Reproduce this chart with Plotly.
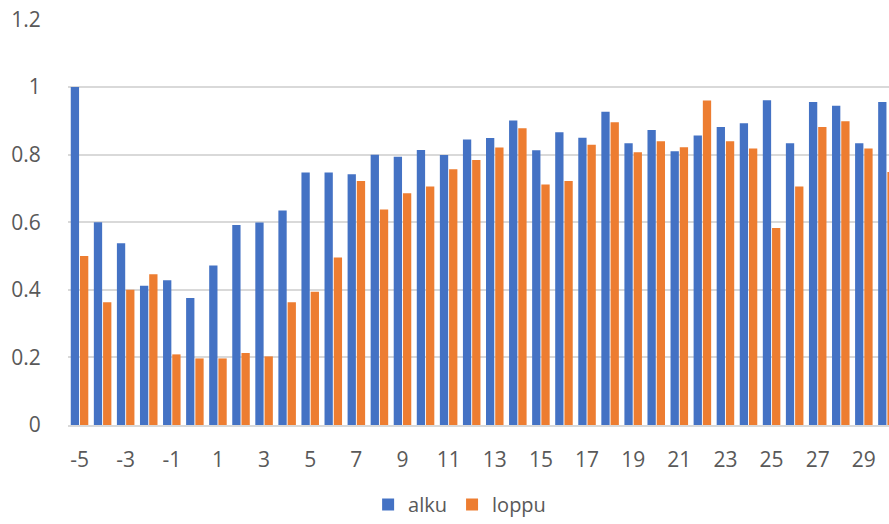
import plotly.graph_objects as go

# Category values along the x axis
categories = list(range(-5, 31))

alku = [1.0, 0.6, 0.538, 0.412, 0.428, 0.376, 0.472, 0.592, 0.599, 0.635,
        0.747, 0.747, 0.742, 0.80, 0.794, 0.814, 0.799, 0.845, 0.849, 0.901,
        0.813, 0.866, 0.85, 0.927, 0.834, 0.873, 0.81, 0.857, 0.882, 0.893,
        0.961, 0.834, 0.956, 0.945, 0.834, 0.956]

loppu = [0.5, 0.363, 0.40, 0.446, 0.209, 0.197, 0.197, 0.213, 0.203, 0.363,
         0.394, 0.496, 0.722, 0.638, 0.686, 0.706, 0.757, 0.784, 0.821, 0.878,
         0.712, 0.722, 0.829, 0.896, 0.807, 0.84, 0.822, 0.96, 0.84, 0.818,
         0.583, 0.706, 0.882, 0.899, 0.818, 0.749]

x_ticks = list(range(-5, 30, 2))
y_ticks = [0, 0.2, 0.4, 0.6, 0.8, 1, 1.2]
y_labels = ["0", "0.2", "0.4", "0.6", "0.8", "1", "1.2"]

BLUE = "#4472C4"
ORANGE = "#ED7D31"
TEXT = "#595959"
GRID = "#D9D9D9"
CLEAR = "rgba(0,0,0,0)"

fig = go.Figure()
fig.add_trace(go.Bar(x=categories, y=alku, name="alku",
                     marker=dict(color=BLUE, line=dict(width=0))))
fig.add_trace(go.Bar(x=categories, y=loppu, name="loppu",
                     marker=dict(color=ORANGE, line=dict(width=0))))

fig.update_layout(
    width=889, height=524,
    margin=dict(l=68, r=0, t=19, b=99, autoexpand=False),
    paper_bgcolor="white", plot_bgcolor="white",
    barmode="group", bargap=0.2, bargroupgap=0.1,
    font=dict(family="Open Sans, Liberation Sans, sans-serif", size=21, color=TEXT),
    showlegend=True,
    legend=dict(orientation="h", xref="paper", x=0.477, xanchor="center",
                yref="container", y=0.0, yanchor="bottom",
                font=dict(size=20, color=TEXT), borderwidth=0,
                itemwidth=30, tracegroupgap=0),
    xaxis=dict(range=[-5.5, 30.09], tickvals=x_ticks,
               ticktext=[str(v) for v in x_ticks],
               showgrid=False, zeroline=False, showline=True,
               linecolor=GRID, linewidth=1.5,
               ticks="outside", ticklen=15, tickcolor=CLEAR,
               fixedrange=True),
    yaxis=dict(range=[0, 1.2015], tickvals=y_ticks, ticktext=y_labels,
               showgrid=True, gridcolor=GRID, gridwidth=1.5,
               zeroline=False, showline=False,
               ticks="outside", ticklen=22, tickcolor=CLEAR,
               fixedrange=True),
)

fig.write_html("out.html")
